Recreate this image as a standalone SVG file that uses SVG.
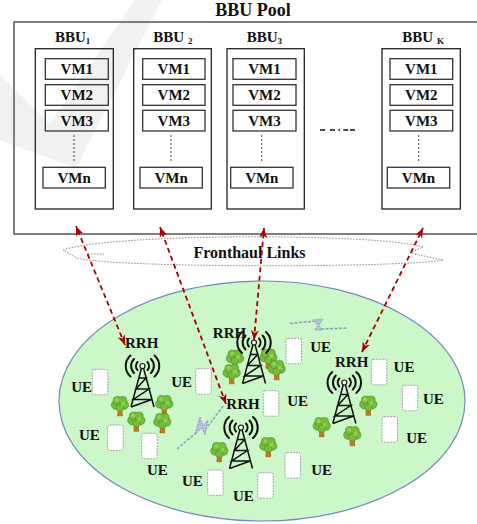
<svg xmlns="http://www.w3.org/2000/svg" xmlns:xlink="http://www.w3.org/1999/xlink" width="477" height="524" viewBox="0 0 477 524">
  <style>
    text { font-family: "Liberation Serif", "Times New Roman", serif; font-weight: bold; fill: #111; }
    .title { font-size: 18px; }
    .lbl { font-size: 15px; }
    .vmt { font-size: 15px; text-anchor: middle; }
    .sub { font-size: 9px; }
    .box { fill: none; stroke: #222; stroke-width: 1.3; }
    .vm { fill: none; stroke: #333; stroke-width: 1.3; }
    .dots { stroke: #444; stroke-width: 1; stroke-dasharray: 2 2; fill: none; }
    .link { fill: none; stroke: #a80000; stroke-width: 1.8; stroke-dasharray: 5 3.5; marker-start: url(#head); marker-end: url(#head); }
    .cloud { fill: none; stroke: #8a8a8a; stroke-width: 1; stroke-dasharray: 1.5 1.5; }
    .phone { fill: #fff; stroke: #a3a3a3; stroke-width: 1; stroke-dasharray: 2 1; }
    .wave { fill: none; stroke: #111; stroke-width: 2; stroke-linecap: round; }
    .mast { fill: none; stroke: #111; stroke-width: 1.5; }
    .bolt { fill: none; stroke: #8c9ace; stroke-width: 1.5; stroke-dasharray: 3 1.5; }
    .boltfill { fill: #b9c1d9; stroke: #8c9ace; stroke-width: 1; stroke-dasharray: 2 1; }
  </style>
  <defs>
    <marker id="head" viewBox="0 0 10 8" refX="10" refY="4" markerWidth="10" markerHeight="8" markerUnits="userSpaceOnUse" orient="auto-start-reverse">
      <path d="M0,0 L10,4 L0,8 L3,4 Z" fill="#a80000"/>
    </marker>
    <!-- lattice mast with radio waves, origin at the antenna tip -->
    <g id="tower">
      <path class="wave" d="M-5,-4 A6,6 0 0 0 -5,4 M-8.5,-7 A10,10 0 0 0 -8.5,7 M-12,-10.5 A14,14 0 0 0 -12,10.5"/>
      <path class="wave" d="M5,-4 A6,6 0 0 1 5,4 M8.5,-7 A10,10 0 0 1 8.5,7 M12,-10.5 A14,14 0 0 1 12,10.5"/>
      <path class="mast" d="M-1,2 L-11.5,41 M1,2 L11.5,41 M-3.6,12 L3.6,12 L-6.5,23 L6.5,23 L-9.3,33.5 L9.3,33.5 L-11.5,41"/>
      <circle cx="0" cy="0" r="2.5" fill="#fff" stroke="#111" stroke-width="1.2"/>
    </g>
    <!-- small tree, origin at the canopy centre -->
    <g id="tree" transform="scale(1.08)">
      <path d="M-1.6,2 L1.6,2 L2.2,9 L-2.2,9 Z M0,4 L-3.5,1.5 M0,4.5 L3.5,2" fill="#c47a1c" stroke="#b06a12" stroke-width="0.8"/>
      <g fill="#76bd3c" stroke="#4e8e22" stroke-width="0.6">
        <circle cx="-4" cy="-1" r="4"/>
        <circle cx="4" cy="-1" r="4"/>
        <circle cx="-2.5" cy="-5" r="3.8"/>
        <circle cx="2.5" cy="-5" r="3.8"/>
        <circle cx="0" cy="1.5" r="3.5"/>
      </g>
      <g fill="#8fd152">
        <circle cx="-2.5" cy="-5.5" r="2"/>
        <circle cx="3" cy="-2" r="2"/>
      </g>
    </g>
    <rect id="ue" width="15.5" height="25.5" rx="2" class="phone"/>
  </defs>

  <rect width="477" height="524" fill="#fff"/>

  <!-- faint background mark -->
  <polygon points="0,75 50,124 135,0 162,0 76,168 0,140" fill="#f1f1f1"/>

  <!-- BBU pool -->
  <g id="bbu-pool">
    <text class="title" x="253" y="16" text-anchor="middle">BBU Pool</text>
    <rect x="14" y="22" width="475" height="212" fill="none" stroke="#555" stroke-width="1.5"/>
  </g>

  <g id="bbu1">
    <text class="lbl" x="55" y="41.5">BBU<tspan class="sub" dy="2">1</tspan></text>
    <rect class="box" x="35.3" y="48.7" width="78" height="160.3"/>
    <rect class="vm" x="45.3" y="58.7" width="63" height="20.6"/>
    <rect class="vm" x="45.3" y="84.7" width="63" height="20.6"/>
    <rect class="vm" x="45.3" y="110.3" width="63" height="20.7"/>
    <line class="dots" x1="74" y1="135" x2="74" y2="162"/>
    <rect class="vm" x="43" y="167.3" width="62.3" height="20.7"/>
    <text class="vmt" x="76.8" y="74.3">VM1</text>
    <text class="vmt" x="76.8" y="100.3">VM2</text>
    <text class="vmt" x="76.8" y="126">VM3</text>
    <text class="vmt" x="74.2" y="183">VMn</text>
  </g>

  <g id="bbu2">
    <text class="lbl" x="153.3" y="41.5">BBU <tspan class="sub" dy="2">2</tspan></text>
    <rect class="box" x="133.7" y="48.7" width="77.6" height="160.3"/>
    <rect class="vm" x="142.7" y="58.7" width="62.3" height="20.6"/>
    <rect class="vm" x="142.7" y="84.7" width="62.3" height="20.6"/>
    <rect class="vm" x="142.7" y="110.3" width="62.3" height="20.7"/>
    <line class="dots" x1="171" y1="135" x2="171" y2="162"/>
    <rect class="vm" x="140" y="167.3" width="62.3" height="20.7"/>
    <text class="vmt" x="173.8" y="74.3">VM1</text>
    <text class="vmt" x="173.8" y="100.3">VM2</text>
    <text class="vmt" x="173.8" y="126">VM3</text>
    <text class="vmt" x="171.2" y="183">VMn</text>
  </g>

  <g id="bbu3">
    <text class="lbl" x="246.7" y="41.5">BBU<tspan class="sub" dy="2">3</tspan></text>
    <rect class="box" x="227" y="48.7" width="77.3" height="160.3"/>
    <rect class="vm" x="233" y="58.7" width="63" height="20.6"/>
    <rect class="vm" x="233" y="84.7" width="63" height="20.6"/>
    <rect class="vm" x="233" y="110.3" width="63" height="20.7"/>
    <line class="dots" x1="261.7" y1="135" x2="261.7" y2="162"/>
    <rect class="vm" x="230.7" y="167.3" width="62.3" height="20.7"/>
    <text class="vmt" x="264.5" y="74.3">VM1</text>
    <text class="vmt" x="264.5" y="100.3">VM2</text>
    <text class="vmt" x="264.5" y="126">VM3</text>
    <text class="vmt" x="261.8" y="183">VMn</text>
  </g>

  <path d="M320,130 L355,130" stroke="#111" stroke-width="1.5" stroke-dasharray="5,5,5,3.3,1.7,3.3,5,1.7,5" fill="none"/>

  <g id="bbuk">
    <text class="lbl" x="402.3" y="41.5">BBU <tspan class="sub" dy="2">K</tspan></text>
    <rect class="box" x="382" y="48.7" width="78.3" height="160.3"/>
    <rect class="vm" x="390" y="58.7" width="62.7" height="20.6"/>
    <rect class="vm" x="390" y="84.7" width="62.7" height="20.6"/>
    <rect class="vm" x="390" y="110.3" width="62.7" height="20.7"/>
    <line class="dots" x1="418.7" y1="135" x2="418.7" y2="162"/>
    <rect class="vm" x="387.3" y="167.3" width="62.4" height="20.7"/>
    <text class="vmt" x="421.3" y="74.3">VM1</text>
    <text class="vmt" x="421.3" y="100.3">VM2</text>
    <text class="vmt" x="421.3" y="126">VM3</text>
    <text class="vmt" x="418.5" y="183">VMn</text>
  </g>

  <!-- fronthaul cloud -->
  <g id="fronthaul">
    <path class="cloud" d="M63,250 C110,233 380,233 423,247 L410,253 L443,260 C400,268 110,268 77,258 Z M88,254 L104,254"/>
    <text x="249.5" y="258" font-size="16" text-anchor="middle">Fronthaul Links</text>
  </g>

  <!-- coverage area -->
  <g id="cell-area">
    <ellipse cx="262" cy="401" rx="203" ry="120" fill="#ccf7c9" stroke="#7388bf" stroke-width="1.2"/>
  </g>

  <!-- wireless interference links -->
  <g id="wireless">
    <path class="bolt" d="M177,449 L197,432 M205,430 L224,405"/>
    <polygon class="boltfill" points="195,434 200,417 203,426 208,420 205,435 202,428"/>
    <path class="bolt" d="M290,323.5 L315,321 M321,329 L348,328"/>
    <polygon class="boltfill" points="313,320 323,319 319,325 322,330 315,330 318,325.5"/>
  </g>

  <!-- trees -->
  <g id="trees">
    <use xlink:href="#tree" x="120" y="406"/>
    <use xlink:href="#tree" x="164.3" y="405"/>
    <use xlink:href="#tree" x="136.3" y="421.5"/>
    <use xlink:href="#tree" x="162.3" y="423"/>
    <use xlink:href="#tree" x="235" y="359.5"/>
    <use xlink:href="#tree" x="231.7" y="374"/>
    <use xlink:href="#tree" x="268.3" y="358.5"/>
    <use xlink:href="#tree" x="276.7" y="370"/>
    <use xlink:href="#tree" x="219.3" y="452"/>
    <use xlink:href="#tree" x="268.3" y="447"/>
    <use xlink:href="#tree" x="368.3" y="405.5"/>
    <use xlink:href="#tree" x="321.7" y="427"/>
    <use xlink:href="#tree" x="352.3" y="436"/>
  </g>

  <!-- remote radio heads -->
  <g id="rrh1">
    <use xlink:href="#tower" x="142.5" y="366"/>
    <text class="lbl" x="141.7" y="348" text-anchor="middle">RRH</text>
  </g>
  <g id="rrh2">
    <use xlink:href="#tower" x="254" y="342.5"/>
    <text class="lbl" x="229.5" y="338" text-anchor="middle">RRH</text>
  </g>
  <g id="rrh3">
    <use xlink:href="#tower" x="241" y="427.5"/>
    <text class="lbl" x="243" y="409" text-anchor="middle">RRH</text>
  </g>
  <g id="rrh4">
    <use xlink:href="#tower" x="344.3" y="382.5"/>
    <text class="lbl" x="351.7" y="367" text-anchor="middle">RRH</text>
  </g>

  <!-- user equipment -->
  <g id="ue-devices">
    <use xlink:href="#ue" x="92.3" y="369.3"/>
    <use xlink:href="#ue" x="107.7" y="425"/>
    <use xlink:href="#ue" x="141.7" y="433.3"/>
    <use xlink:href="#ue" x="195.7" y="368.7"/>
    <use xlink:href="#ue" x="207.7" y="470"/>
    <use xlink:href="#ue" x="257.7" y="472.7"/>
    <use xlink:href="#ue" x="285" y="452.7"/>
    <use xlink:href="#ue" x="263.3" y="390.7"/>
    <use xlink:href="#ue" x="286" y="338.3"/>
    <use xlink:href="#ue" x="371.3" y="359.3"/>
    <use xlink:href="#ue" x="402.3" y="385.3"/>
    <use xlink:href="#ue" x="382" y="416.7"/>
  </g>
  <g id="ue-labels" text-anchor="middle">
    <text class="lbl" x="81.7" y="392">UE</text>
    <text class="lbl" x="89.3" y="440">UE</text>
    <text class="lbl" x="157.3" y="475">UE</text>
    <text class="lbl" x="181.7" y="387">UE</text>
    <text class="lbl" x="192.3" y="486">UE</text>
    <text class="lbl" x="243.3" y="501">UE</text>
    <text class="lbl" x="321.7" y="475">UE</text>
    <text class="lbl" x="297.7" y="406">UE</text>
    <text class="lbl" x="320.7" y="352">UE</text>
    <text class="lbl" x="404" y="372">UE</text>
    <text class="lbl" x="433.3" y="403.5">UE</text>
    <text class="lbl" x="416.7" y="442.5">UE</text>
  </g>

  <!-- fronthaul connectors -->
  <g id="connectors">
    <path class="link" d="M125,345 L76,226"/>
    <path class="link" d="M226,404 L160,227"/>
    <path class="link" d="M254,340 L264,228"/>
    <path class="link" d="M362,352 L423,228"/>
  </g>
</svg>
